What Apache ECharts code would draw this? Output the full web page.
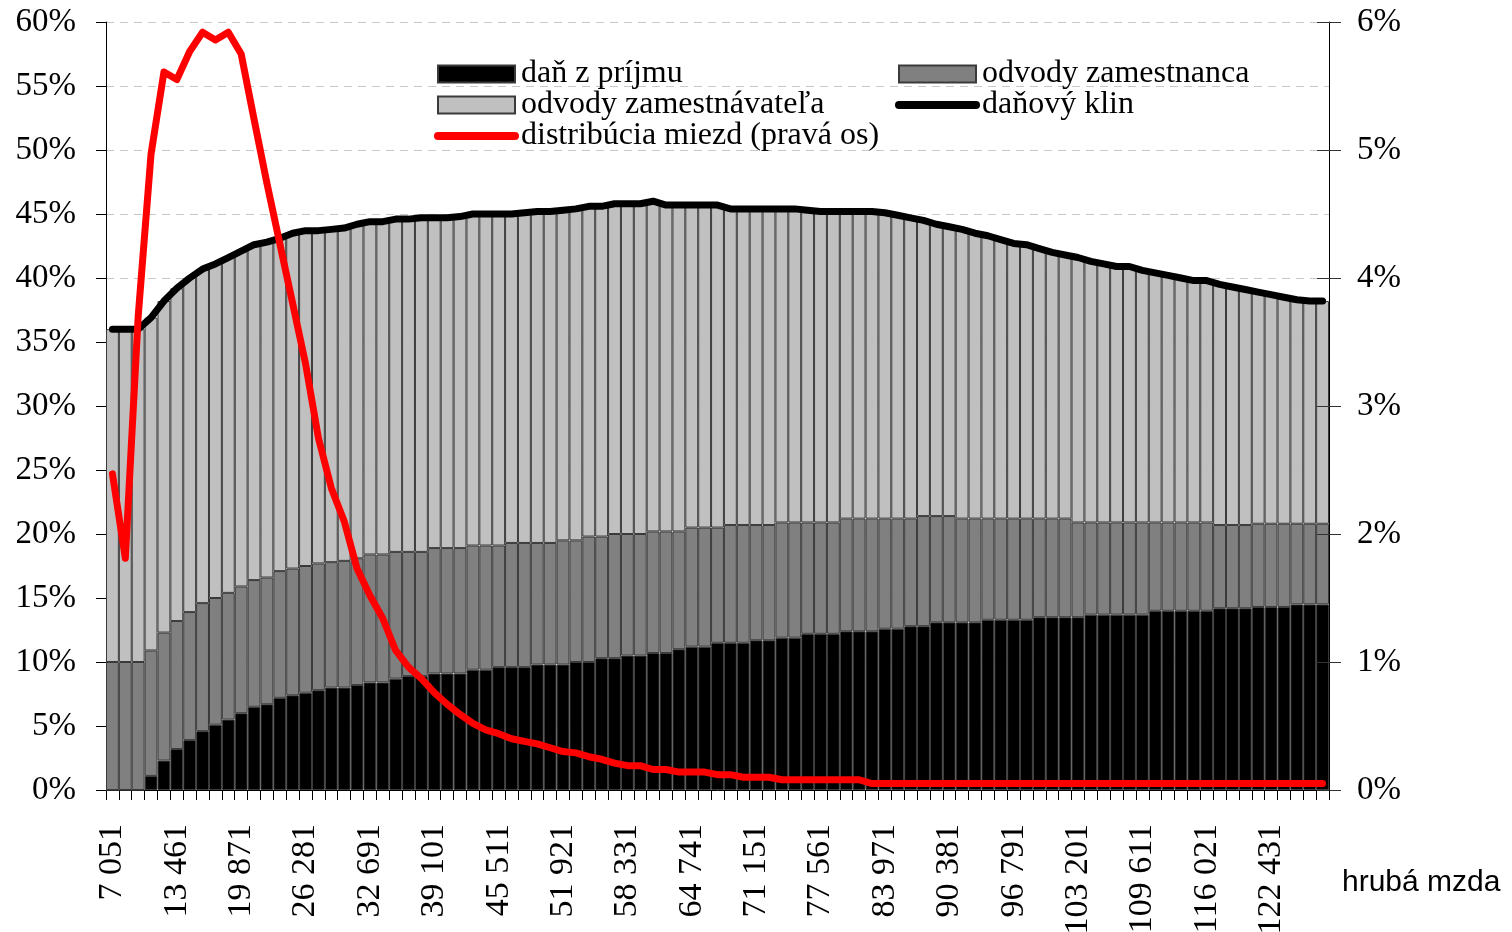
<!DOCTYPE html>
<html>
<head>
<meta charset="utf-8">
<title>Daňový klin</title>
<script src="https://cdn.jsdelivr.net/npm/echarts@6/dist/echarts.min.js"></script>
<style>
  html, body { margin: 0; padding: 0; background: #fff; }
  #chart { width: 1512px; height: 932px; }
</style>
</head>
<body>
<div id="chart"></div>
<script>
// hrubá mzda (kategórie)
const wages = [
  7051, 8333, 9615, 10897, 12179, 13461, 14743, 16025, 17307, 18589,
  19871, 21153, 22435, 23717, 24999, 26281, 27563, 28845, 30127, 31409,
  32691, 33973, 35255, 36537, 37819, 39101, 40383, 41665, 42947, 44229,
  45511, 46793, 48075, 49357, 50639, 51921, 53203, 54485, 55767, 57049,
  58331, 59613, 60895, 62177, 63459, 64741, 66023, 67305, 68587, 69869,
  71151, 72433, 73715, 74997, 76279, 77561, 78843, 80125, 81407, 82689,
  83971, 85253, 86535, 87817, 89099, 90381, 91663, 92945, 94227, 95509,
  96791, 98073, 99355, 100637, 101919, 103201, 104483, 105765, 107047, 108329,
  109611, 110893, 112175, 113457, 114739, 116021, 117303, 118585, 119867, 121149,
  122431, 123713, 124995, 126277, 127559
];

// daň z príjmu (% z ceny práce)
const incomeTax = [
  0, 0, 0, 1.1, 2.3, 3.2, 3.9, 4.6, 5.1, 5.5,
  6.0, 6.5, 6.7, 7.2, 7.4, 7.6, 7.8, 8.0, 8.0, 8.2,
  8.4, 8.4, 8.7, 8.9, 8.9, 9.1, 9.1, 9.1, 9.4, 9.4,
  9.6, 9.6, 9.6, 9.8, 9.8, 9.8, 10.0, 10.0, 10.3, 10.3,
  10.5, 10.5, 10.7, 10.7, 11.0, 11.2, 11.2, 11.5, 11.5, 11.5,
  11.7, 11.7, 11.9, 11.9, 12.2, 12.2, 12.2, 12.4, 12.4, 12.4,
  12.6, 12.6, 12.8, 12.8, 13.1, 13.1, 13.1, 13.1, 13.3, 13.3,
  13.3, 13.3, 13.5, 13.5, 13.5, 13.5, 13.7, 13.7, 13.7, 13.7,
  13.7, 14.0, 14.0, 14.0, 14.0, 14.0, 14.2, 14.2, 14.2, 14.3,
  14.3, 14.3, 14.5, 14.5, 14.5
];

// daň + odvody zamestnanca (horná hrana tmavosivej časti)
const employeeTop = [
  10.0, 10.0, 10.0, 10.9, 12.3, 13.2, 13.9, 14.6, 15.0, 15.4,
  15.9, 16.4, 16.6, 17.1, 17.3, 17.5, 17.7, 17.8, 17.9, 18.1,
  18.4, 18.4, 18.6, 18.6, 18.6, 18.9, 18.9, 18.9, 19.1, 19.1,
  19.1, 19.3, 19.3, 19.3, 19.3, 19.5, 19.5, 19.8, 19.8, 20.0,
  20.0, 20.0, 20.2, 20.2, 20.2, 20.5, 20.5, 20.5, 20.7, 20.7,
  20.7, 20.7, 20.9, 20.9, 20.9, 20.9, 20.9, 21.2, 21.2, 21.2,
  21.2, 21.2, 21.2, 21.4, 21.4, 21.4, 21.2, 21.2, 21.2, 21.2,
  21.2, 21.2, 21.2, 21.2, 21.2, 20.9, 20.9, 20.9, 20.9, 20.9,
  20.9, 20.9, 20.9, 20.9, 20.9, 20.9, 20.7, 20.7, 20.7, 20.8,
  20.8, 20.8, 20.8, 20.8, 20.8
];

// daňový klin (spolu)
const taxWedge = [
  36.0, 36.0, 36.0, 36.9, 38.2, 39.2, 40.0, 40.7, 41.1, 41.6,
  42.1, 42.6, 42.8, 43.1, 43.5, 43.7, 43.7, 43.8, 43.9, 44.2,
  44.4, 44.4, 44.6, 44.6, 44.7, 44.7, 44.7, 44.8, 45.0, 45.0,
  45.0, 45.0, 45.1, 45.2, 45.2, 45.3, 45.4, 45.6, 45.6, 45.8,
  45.8, 45.8, 46.0, 45.7, 45.7, 45.7, 45.7, 45.7, 45.4, 45.4,
  45.4, 45.4, 45.4, 45.4, 45.3, 45.2, 45.2, 45.2, 45.2, 45.2,
  45.1, 44.9, 44.7, 44.5, 44.2, 44.0, 43.8, 43.5, 43.3, 43.0,
  42.7, 42.6, 42.3, 42.0, 41.8, 41.6, 41.3, 41.1, 40.9, 40.9,
  40.6, 40.4, 40.2, 40.0, 39.8, 39.8, 39.5, 39.3, 39.1, 38.9,
  38.7, 38.5, 38.3, 38.2, 38.2
];

// distribúcia miezd (pravá os, %)
const wageDistribution = [
  2.47, 1.81, 3.70, 4.97, 5.61, 5.55, 5.77, 5.92, 5.86, 5.92,
  5.75, 5.24, 4.74, 4.27, 3.80, 3.33, 2.75, 2.36, 2.10, 1.73,
  1.52, 1.34, 1.09, 0.96, 0.87, 0.76, 0.67, 0.59, 0.52, 0.47,
  0.44, 0.40, 0.38, 0.36, 0.33, 0.30, 0.29, 0.26, 0.24, 0.21,
  0.19, 0.19, 0.16, 0.16, 0.14, 0.14, 0.14, 0.12, 0.12, 0.10,
  0.10, 0.10, 0.08, 0.08, 0.08, 0.08, 0.08, 0.08, 0.08, 0.05,
  0.05, 0.05, 0.05, 0.05, 0.05, 0.05, 0.05, 0.05, 0.05, 0.05,
  0.05, 0.05, 0.05, 0.05, 0.05, 0.05, 0.05, 0.05, 0.05, 0.05,
  0.05, 0.05, 0.05, 0.05, 0.05, 0.05, 0.05, 0.05, 0.05, 0.05,
  0.05, 0.05, 0.05, 0.05, 0.05
];

const serif = '"Liberation Serif", "DejaVu Serif", serif';
const round1 = v => Math.round(v * 10) / 10;
const employeePart = employeeTop.map((v, i) => round1(v - incomeTax[i]));
const employerPart = taxWedge.map((v, i) => round1(v - employeeTop[i]));
const fmtWage = v => String(v).replace(/\B(?=(\d{3})+(?!\d))/g, ' ');

const barBorder = { borderColor: '#3a3a3a', borderWidth: 1 };
const legendText = { fontFamily: serif, fontSize: 32, color: '#000', padding: [0, 0, 0, 1] };
const legendBase = {
  orient: 'vertical',
  top: 58,
  padding: 0,
  itemWidth: 77, itemHeight: 17, itemGap: -1,
  textStyle: legendText,
  lineStyle: { width: 8, cap: 'round' }
};
// čiara v legende bez bodu uprostred
const lineItem = name => ({ name: name, itemStyle: { opacity: 0 } });

const myChart = echarts.init(document.getElementById('chart'));

const option = {
  animation: false,
  backgroundColor: '#fff',
  grid: { left: 106, right: 183, top: 22, bottom: 142, outerBoundsMode: 'none' },
  legend: [
    Object.assign({}, legendBase, {
      left: 434,
      data: [
        { name: 'daň z príjmu', icon: 'rect' },
        { name: 'odvody zamestnávateľa', icon: 'rect' },
        lineItem('distribúcia miezd (pravá os)')
      ]
    }),
    Object.assign({}, legendBase, {
      left: 895,
      data: [
        { name: 'odvody zamestnanca', icon: 'rect' },
        lineItem('daňový klin')
      ]
    })
  ],
  xAxis: {
    type: 'category',
    data: wages,
    boundaryGap: true,
    name: 'hrubá mzda',
    nameLocation: 'end',
    nameGap: 13,
    nameTextStyle: {
      fontFamily: '"Liberation Sans", Arial, sans-serif',
      fontSize: 30, color: '#000',
      verticalAlign: 'top', align: 'left',
      padding: [78, 0, 0, 0]
    },
    axisLine: { lineStyle: { color: '#000', width: 1 } },
    axisTick: { show: true, interval: 0, length: 10, lineStyle: { color: '#000' } },
    axisLabel: {
      interval: 4,
      rotate: 90,
      margin: 34,
      fontFamily: serif,
      fontSize: 34,
      color: '#000',
      formatter: v => fmtWage(v)
    }
  },
  yAxis: [
    {
      type: 'value',
      min: 0, max: 60, interval: 5,
      axisLine: { show: true, lineStyle: { color: '#000' } },
      axisTick: { show: true, length: 10, lineStyle: { color: '#000' } },
      axisLabel: { formatter: '{value}%', fontFamily: serif, fontSize: 33, color: '#000', margin: 30 },
      splitLine: { show: true, lineStyle: { color: '#c8c8c8', width: 1, type: [8, 6] } }
    },
    {
      type: 'value',
      position: 'right',
      min: 0, max: 6, interval: 1,
      axisLine: { show: true, lineStyle: { color: '#000' } },
      axisTick: { show: true, length: 12, lineStyle: { color: '#333' } },
      axisLabel: { formatter: '{value}%', fontFamily: serif, fontSize: 33, color: '#000', margin: 28 },
      splitLine: { show: false }
    },
    {
      // vnútorné značky pravej osi (kríženie)
      type: 'value',
      position: 'right',
      min: 0, max: 6, interval: 1,
      z: 10,
      axisLine: { show: false },
      axisTick: { show: true, inside: true, length: 12, lineStyle: { color: '#333' } },
      axisLabel: { show: false },
      splitLine: { show: false }
    }
  ],
  series: [
    {
      name: 'daň z príjmu',
      type: 'bar',
      stack: 'klin',
      barCategoryGap: '0%',
      data: incomeTax,
      itemStyle: Object.assign({ color: '#000' }, barBorder)
    },
    {
      name: 'odvody zamestnanca',
      type: 'bar',
      stack: 'klin',
      data: employeePart,
      itemStyle: Object.assign({ color: '#808080' }, barBorder)
    },
    {
      name: 'odvody zamestnávateľa',
      type: 'bar',
      stack: 'klin',
      data: employerPart,
      itemStyle: Object.assign({ color: '#c0c0c0' }, barBorder)
    },
    {
      name: 'daňový klin',
      type: 'line',
      data: taxWedge,
      symbol: 'none',
      z: 3,
      lineStyle: { color: '#000', width: 7, cap: 'round', join: 'round' },
      itemStyle: { color: '#000' }
    },
    {
      name: 'distribúcia miezd (pravá os)',
      type: 'line',
      yAxisIndex: 1,
      data: wageDistribution,
      symbol: 'none',
      z: 4,
      lineStyle: { color: '#ff0000', width: 7, cap: 'round', join: 'round' },
      itemStyle: { color: '#ff0000' }
    }
  ]
};

myChart.setOption(option);
</script>
</body>
</html>
